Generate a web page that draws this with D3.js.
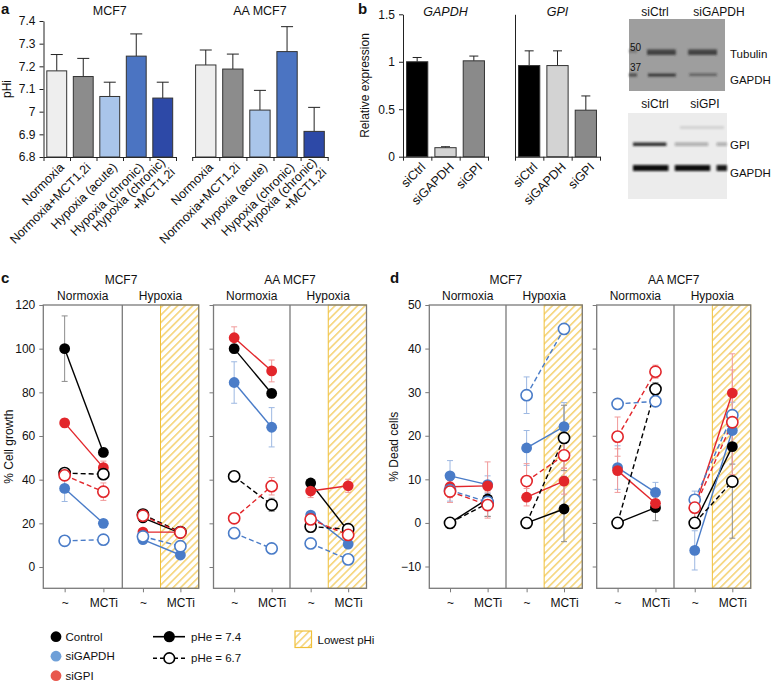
<!DOCTYPE html>
<html><head><meta charset="utf-8">
<script src="https://cdn.jsdelivr.net/npm/d3@7"></script>
<style>body{margin:0;background:#fff} svg{display:block} text{font-family:"Liberation Sans",Arial,Helvetica,sans-serif;fill:#111}</style>
</head><body><svg id="chart" width="772" height="682"></svg>
<script>
// ---------- Panel a data ----------
const aCategories = ["Normoxia","Normoxia+MCT1,2i","Hypoxia (acute)","Hypoxia (chronic)","Hypoxia (chronic)|+MCT1,2i"];
const aMCF7 = [7.18, 7.155, 7.067, 7.245, 7.06];
const aMCF7Err = [0.072, 0.08, 0.063, 0.098, 0.07];
const aAAMCF7 = [7.206, 7.188, 7.007, 7.265, 6.913];
const aAAMCF7Err = [0.066, 0.066, 0.087, 0.11, 0.106];
const aTicks = [6.8, 6.9, 7.0, 7.1, 7.2, 7.3, 7.4];
const aColors = ["#eeeeee","#8c8c8c","#a9c5ea","#4b74c2","#2d49a7"];

// ---------- Panel b data ----------
const bCategories = ["siCtrl","siGAPDH","siGPI"];
const bGAPDH = [1.0, 0.095, 1.01];
const bGAPDHErr = [0.045, 0.01, 0.05];
const bGPI = [0.96, 0.96, 0.49];
const bGPIErr = [0.155, 0.155, 0.15];
const bTicks = [0, 0.5, 1, 1.5];
const bColors = ["#000000","#d3d3d3","#8a8a8a"];
// western blots (band intensity per lane)
const blot1Lanes = ["siCtrl","siGAPDH"];
const blot1Tubulin = [0.85, 0.85];
const blot1GAPDH = [0.8, 0.5];
const blot2Lanes = ["siCtrl","siGPI"];
const blot2GPI = [0.9, 0.3, 0.3];
const blot2GAPDH = [1.0, 1.0, 0.95];

// ---------- Panels c/d data: [group, pHe, value(~), value(MCTi), err(~), err(MCTi)] ----------
const treatments = ["~","MCTi"];
const conditions = ["Normoxia","Hypoxia"];
const cellLines = ["MCF7","AA MCF7"];
const groupNames = ["Control","siGAPDH","siGPI"];

const growthMCF7Normoxia = [
  ["Control",7.4,100,52.5,15,2], ["siGAPDH",7.4,36,20,6,1.5], ["siGPI",7.4,66,45.5,2,3],
  ["Control",6.7,43,42.5,1,2], ["siGAPDH",6.7,12,12.5,1,1], ["siGPI",6.7,42,34.5,2,4]];
const growthMCF7Hypoxia = [
  ["Control",7.4,22.5,15.5,1.5,1], ["siGAPDH",7.4,12.5,5.5,1.5,1], ["siGPI",7.4,16,16,1.5,1],
  ["Control",6.7,24,16,1.5,1], ["siGAPDH",6.7,14,9.5,1.5,1], ["siGPI",6.7,23.5,15.8,1.5,1]];
const growthAANormoxia = [
  ["Control",7.4,100,79.5,2,2], ["siGAPDH",7.4,84.5,64,9.5,9], ["siGPI",7.4,105,89.8,5,5],
  ["Control",6.7,41.5,28.5,1,3], ["siGAPDH",6.7,15.5,8.5,1,1], ["siGPI",6.7,22.3,37,1,4]];
const growthAAHypoxia = [
  ["Control",7.4,38.5,16.5,1.5,1], ["siGAPDH",7.4,23.8,10.5,1.5,1], ["siGPI",7.4,34.8,37.2,3,3],
  ["Control",6.7,18.5,17.3,1,1], ["siGAPDH",6.7,10.8,3.5,1,1], ["siGPI",6.7,21.8,14.7,1.5,1.5]];

const deadMCF7Normoxia = [
  ["Control",7.4,0,5.5,0,4], ["siGAPDH",7.4,10.8,8.8,3.5,2], ["siGPI",7.4,8.3,8.5,2.5,5.5],
  ["Control",6.7,0,4.5,0,3], ["siGAPDH",6.7,7.5,4.8,2.5,2], ["siGPI",6.7,7.2,4.1,2.5,3]];
const deadMCF7Hypoxia = [
  ["Control",7.4,0,3.2,0,7.5], ["siGAPDH",7.4,17.2,22.1,4,5.5], ["siGPI",7.4,5.9,9.6,2,3],
  ["Control",6.7,0,19.5,0,7.5], ["siGAPDH",6.7,29.3,44.5,4.2,1], ["siGPI",6.7,9.6,15.5,4,3]];
const deadAANormoxia = [
  ["Control",7.4,0,3.5,0,3], ["siGAPDH",7.4,12.7,7.0,5,2.3], ["siGPI",7.4,12,4.5,5,1.5],
  ["Control",6.7,0,30.7,0,1.5], ["siGAPDH",6.7,27.3,27.9,1,1], ["siGPI",6.7,19.8,34.7,4.5,1.5]];
const deadAAHypoxia = [
  ["Control",7.4,0,17.5,0,4], ["siGAPDH",7.4,-6.3,21.2,4.5,3], ["siGPI",7.4,3.5,29.8,3,9],
  ["Control",6.7,0,9.5,0,13], ["siGAPDH",6.7,5.3,24.7,2,3], ["siGPI",6.7,3.5,23.1,3,12]];

const growthTicks = [0,20,40,60,80,100,120];
const deadTicks = [-10,0,10,20,30,40,50];

// ---------- styles ----------
const groupColor = {Control:"#000000", siGAPDH:"#4a7cc8", siGPI:"#e2262b"};
const errColor = {Control:"#8c8c8c", siGAPDH:"#9db8e2", siGPI:"#f19a9a"};
const legendColor = {Control:"#000000", siGAPDH:"#6fa0d8", siGPI:"#e8584d"};
const frameColor = "#7a7a7a";
const hatchColor = "#f0c03a";

const svg = d3.select("#chart");
const defs = svg.append("defs");
const pat = defs.append("pattern").attr("id","hatch").attr("patternUnits","userSpaceOnUse")
  .attr("width",5.3).attr("height",5.3).attr("patternTransform","rotate(45)");
pat.append("line").attr("x1",2.6).attr("x2",2.6).attr("y1",0).attr("y2",5.3)
  .attr("stroke",hatchColor).attr("stroke-width",1.1);
defs.append("filter").attr("id","blur").attr("x","-20%").attr("y","-100%").attr("width","140%").attr("height","300%")
  .append("feGaussianBlur").attr("stdDeviation",0.9);

function panelLetter(t,x,y){ svg.append("text").attr("x",x).attr("y",y).attr("font-size",15).attr("font-weight","bold").text(t); }

function rotLabels(g, cats, band, y0, dx){
  cats.forEach((c,i)=>{
    const lines = c.split("|");
    const t = g.append("text")
      .attr("transform",`translate(${band(i)+band.bandwidth()/2+dx},${y0+8}) rotate(-45)`)
      .attr("text-anchor","end").attr("font-size",12.5);
    lines.forEach((ln,j)=>t.append("tspan").attr("x",0)
      .attr("dy", j===0 ? (lines.length>1 ? "-0.2em" : "0.35em") : "1.1em").text(ln));
  });
}

function barChart(o){
  const g = svg.append("g");
  const band = d3.scaleBand().domain(d3.range(o.vals.length)).range(o.xr).paddingInner(0.25).paddingOuter(0.125);
  const base = o.y.range()[0];
  const edge = d3.scaleLinear().domain([0,o.vals.length]).range(o.xr);
  const ax = g.append("g").attr("transform",`translate(0,${base})`)
    .call(d3.axisBottom(edge).tickValues(d3.range(o.vals.length+1)).tickSize(4).tickSizeOuter(0).tickFormat(""));
  ax.selectAll("path,line").attr("stroke","#222");
  if (o.yAxis){
    const ya = g.append("g").attr("transform",`translate(${o.xr[0]},0)`)
      .call(d3.axisLeft(o.y).tickValues(o.ticks).tickSize(o.labels?4:0).tickSizeOuter(0).tickPadding(4)
        .tickFormat(o.labels ? (d=>String(+d.toFixed(1))) : ""));
    ya.selectAll("path,line").attr("stroke","#222");
    ya.selectAll("text").attr("font-size",12).attr("fill","#111").style("font-family",'"Liberation Sans",Arial,sans-serif');
  }
  o.vals.forEach((v,i)=>{
    const cx = band(i)+band.bandwidth()/2;
    g.append("line").attr("x1",cx).attr("x2",cx).attr("y1",o.y(v)).attr("y2",o.y(v+o.errs[i])).attr("stroke","#222").attr("stroke-width",1);
    g.append("line").attr("x1",cx-o.cap).attr("x2",cx+o.cap).attr("y1",o.y(v+o.errs[i])).attr("y2",o.y(v+o.errs[i])).attr("stroke","#222").attr("stroke-width",1);
  });
  g.selectAll("rect.bar").data(o.vals).join("rect").attr("class","bar")
    .attr("x",(d,i)=>band(i)).attr("width",band.bandwidth())
    .attr("y",d=>o.y(d)).attr("height",d=>base-o.y(d))
    .attr("fill",(d,i)=>o.colors[i]).attr("stroke","#333").attr("stroke-width",1);
  rotLabels(g, o.cats, band, base, o.labDx);
  if (o.title) g.append("text").attr("x",(o.xr[0]+o.xr[1])/2).attr("y",o.titleY).attr("text-anchor","middle")
    .attr("font-size",12.5).attr("font-style",o.italic?"italic":"normal").text(o.title);
}

// ---------- Panel a ----------
panelLetter("a",1,14);
const aY = d3.scaleLinear().domain([6.8,7.4]).range([157,21]);
barChart({vals:aMCF7, errs:aMCF7Err, cats:aCategories, colors:aColors, xr:[43.5,176], y:aY, ticks:aTicks, yAxis:true, labels:true, cap:6, title:"MCF7", titleY:15, labDx:5});
barChart({vals:aAAMCF7, errs:aAAMCF7Err, cats:aCategories, colors:aColors, xr:[192.2,327.7], y:aY, ticks:aTicks, yAxis:false, cap:6, title:"AA MCF7", titleY:15, labDx:5});
svg.append("text").attr("transform","translate(11,89) rotate(-90)").attr("text-anchor","middle").attr("font-size",12).text("pHi");

// ---------- Panel b ----------
panelLetter("b",358,14);
const bY = d3.scaleLinear().domain([0,1.5]).range([156.7,14.3]);
barChart({vals:bGAPDH, errs:bGAPDHErr, cats:bCategories, colors:bColors, xr:[403,488], y:bY, ticks:bTicks, yAxis:true, labels:true, cap:4.5, title:"GAPDH", italic:true, titleY:16, labDx:6});
barChart({vals:bGPI, errs:bGPIErr, cats:bCategories, colors:bColors, xr:[515,600], y:bY, ticks:bTicks, yAxis:true, labels:false, cap:4.5, title:"GPI", italic:true, titleY:16, labDx:6});
svg.append("text").attr("transform","translate(369,85.5) rotate(-90)").attr("text-anchor","middle").attr("font-size",12).text("Relative expression");

// western blots
(function(){
  const g = svg.append("g");
  g.append("rect").attr("x",629).attr("y",19).attr("width",96).attr("height",72).attr("fill","#9e9e9e");
  const lane1 = d3.scaleBand().domain(d3.range(blot1Lanes.length)).range([647,717]).paddingInner(0.3);
  blot1Lanes.forEach((l,i)=>g.append("text").attr("x",[655,719][i]).attr("y",16).attr("text-anchor","middle").attr("font-size",12).text(l));
  const bands = g.append("g").attr("filter","url(#blur)");
  blot1Tubulin.forEach((v,i)=>bands.append("rect").attr("x",lane1(i)).attr("y",49.5).attr("width",lane1.bandwidth()).attr("height",5.5).attr("fill","#333").attr("opacity",v));
  blot1GAPDH.forEach((v,i)=>bands.append("rect").attr("x",lane1(i)+1).attr("y",73.5).attr("width",lane1.bandwidth()-1).attr("height",3.5-(1-v)*2).attr("fill","#222").attr("opacity",v));
  bands.append("rect").attr("x",629).attr("y",49).attr("width",8).attr("height",4).attr("fill","#666").attr("opacity",0.6);
  bands.append("rect").attr("x",629).attr("y",73.5).attr("width",8).attr("height",3).attr("fill","#333").attr("opacity",0.8);
  g.append("text").attr("x",630).attr("y",51).attr("font-size",10).text("50");
  g.append("text").attr("x",630).attr("y",70.5).attr("font-size",10).text("37");
  g.append("text").attr("x",730).attr("y",57.5).attr("font-size",11.5).text("Tubulin");
  g.append("text").attr("x",730).attr("y",83.5).attr("font-size",11.5).text("GAPDH");
  g.append("rect").attr("x",628).attr("y",113).attr("width",99).attr("height",86).attr("fill","#ececec");
  const lane2 = d3.scaleBand().domain(d3.range(3)).range([633,750]).paddingInner(0.2);
  blot2Lanes.forEach((l,i)=>g.append("text").attr("x",[655,705][i]).attr("y",108).attr("text-anchor","middle").attr("font-size",12).text(l));
  const b2 = g.append("g").attr("filter","url(#blur)");
  blot2GPI.forEach((v,i)=>{
    const x0 = lane2(i), w = Math.min(lane2.bandwidth(), 727-x0);
    b2.append("rect").attr("x",x0).attr("y",142.5).attr("width",w).attr("height",3.5).attr("fill","#1a1a1a").attr("opacity",v);
  });
  blot2GAPDH.forEach((v,i)=>{
    const x0 = lane2(i), w = Math.min(lane2.bandwidth()+2, 727-x0);
    b2.append("rect").attr("x",x0).attr("y",165).attr("width",w).attr("height",6).attr("fill","#0d0d0d").attr("opacity",v);
  });
  b2.append("rect").attr("x",680).attr("y",126).attr("width",44).attr("height",3).attr("fill","#c8c8c8").attr("opacity",0.7);
  g.append("text").attr("x",730).attr("y",148.5).attr("font-size",11.5).text("GPI");
  g.append("text").attr("x",730).attr("y",177).attr("font-size",11.5).text("GAPDH");
})();

// ---------- Panels c and d ----------
function dotPanel(o){
  const g = svg.append("g");
  const top = 305, bottom = 588.3;
  const y = d3.scaleLinear().domain(o.domain).range([bottom, top]);
  o.boxes.forEach((b,bi)=>{
    const hx = (b.M+b.R)/2;
    g.append("rect").attr("x",hx).attr("y",top).attr("width",b.R-hx).attr("height",bottom-top)
      .attr("fill","url(#hatch)").attr("stroke",hatchColor).attr("stroke-width",1);
    g.append("rect").attr("x",b.L).attr("y",top).attr("width",b.R-b.L).attr("height",bottom-top)
      .attr("fill","none").attr("stroke",frameColor).attr("stroke-width",1.3);
    g.append("line").attr("x1",b.M).attr("x2",b.M).attr("y1",top).attr("y2",bottom).attr("stroke",frameColor).attr("stroke-width",1.3);
    const ya = g.append("g").attr("transform",`translate(${b.L},0)`)
      .call(d3.axisLeft(y).tickValues(o.ticks).tickSize(4).tickPadding(4)
        .tickFormat(bi===0 ? (d=>d<0 ? "\u2212"+Math.abs(d) : String(d)) : ""));
    ya.select(".domain").remove();
    ya.selectAll("line").attr("stroke",frameColor);
    ya.selectAll("text").attr("font-size",12).attr("fill","#111").style("font-family",'"Liberation Sans",Arial,sans-serif');
    g.append("text").attr("x",(b.L+b.R)/2).attr("y",284).attr("text-anchor","middle").attr("font-size",12).text(cellLines[bi]);
    [[b.L,b.M],[b.M,b.R]].forEach((r,ci)=>{
      const cond = conditions[ci];
      g.append("text").attr("x",(r[0]+r[1])/2).attr("y",300).attr("text-anchor","middle").attr("font-size",12).text(cond);
      const x = d3.scalePoint().domain(treatments).range(r).padding(0.52).align(0.53);
      const xa = g.append("g").attr("transform",`translate(0,${bottom})`)
        .call(d3.axisBottom(x).tickSize(4).tickPadding(6));
      xa.select(".domain").remove();
      xa.selectAll("line").attr("stroke",frameColor);
      xa.selectAll("text").attr("font-size",12).attr("fill","#111").style("font-family",'"Liberation Sans",Arial,sans-serif');
      const rows = o.data[bi][ci];
      const eg = g.append("g"), lg = g.append("g"), pg = g.append("g");
      rows.forEach(r2=>{
        const [grp,ph,v0,v1,e0,e1] = r2;
        [[v0,e0,treatments[0]],[v1,e1,treatments[1]]].forEach(([v,e,t])=>{
          if (!e) return;
          const cx = x(t);
          eg.append("line").attr("x1",cx).attr("x2",cx).attr("y1",y(v-e)).attr("y2",y(v+e)).attr("stroke",errColor[grp]).attr("stroke-width",1);
          [v-e,v+e].forEach(w=>eg.append("line").attr("x1",cx-3).attr("x2",cx+3).attr("y1",y(w)).attr("y2",y(w)).attr("stroke",errColor[grp]).attr("stroke-width",1));
        });
        lg.append("line").attr("x1",x(treatments[0])).attr("y1",y(v0)).attr("x2",x(treatments[1])).attr("y2",y(v1))
          .attr("stroke",groupColor[grp]).attr("stroke-width",1.4).attr("stroke-dasharray",ph===6.7?"5,3":null);
      });
      const ordered = rows.filter(r2=>r2[1]===7.4).concat(rows.filter(r2=>r2[1]===6.7));
      ordered.forEach(r2=>{
        const [grp,ph,v0,v1] = r2;
        [[v0,treatments[0]],[v1,treatments[1]]].forEach(([v,t])=>{
          pg.append("circle").attr("cx",x(t)).attr("cy",y(v)).attr("r",ph===7.4?5.4:5.6)
            .attr("fill",ph===7.4?groupColor[grp]:"#fff").attr("stroke",groupColor[grp]).attr("stroke-width",ph===7.4?0:1.6);
        });
      });
    });
  });
  svg.append("text").attr("transform",`translate(${o.labX},${(top+bottom)/2}) rotate(-90)`).attr("text-anchor","middle").attr("font-size",12).text(o.label);
}

panelLetter("c",1,283);
dotPanel({domain:[-9.75,120], ticks:growthTicks, label:"% Cell growth", labX:12.5,
  boxes:[{L:43.3,M:122.3,R:198.7},{L:213.5,M:290,R:366.5}],
  data:[[growthMCF7Normoxia,growthMCF7Hypoxia],[growthAANormoxia,growthAAHypoxia]]});
panelLetter("d",390,283);
dotPanel({domain:[-15,50], ticks:deadTicks, label:"% Dead cells", labX:398,
  boxes:[{L:429.3,M:506,R:582.3},{L:596.7,M:674,R:750.7}],
  data:[[deadMCF7Normoxia,deadMCF7Hypoxia],[deadAANormoxia,deadAAHypoxia]]});

// ---------- Legend ----------
(function(){
  const g = svg.append("g");
  groupNames.forEach((n,i)=>{
    const cy = 636.7 + i*19.5;
    g.append("circle").attr("cx",56).attr("cy",cy).attr("r",5.4).attr("fill",legendColor[n]);
    g.append("text").attr("x",65.5).attr("y",cy+3.8).attr("font-size",11.5).text(n);
  });
  const phs = [["7.4",false],["6.7",true]];
  phs.forEach(([p,dash],i)=>{
    const cy = 636.7 + i*21.5;
    g.append("line").attr("x1",153).attr("x2",185).attr("y1",cy).attr("y2",cy).attr("stroke","#000").attr("stroke-width",1.6).attr("stroke-dasharray",dash?"4,3":null);
    g.append("circle").attr("cx",169.3).attr("cy",cy).attr("r",dash?5.3:5.6).attr("fill",dash?"#fff":"#000").attr("stroke","#000").attr("stroke-width",dash?1.6:0);
    g.append("text").attr("x",191).attr("y",cy+4).attr("font-size",11.5).text("pHe = "+p);
  });
  g.append("rect").attr("x",295).attr("y",631).attr("width",16.5).attr("height",16.5).attr("fill","url(#hatch)").attr("stroke",hatchColor).attr("stroke-width",1.2);
  g.append("text").attr("x",317.5).attr("y",644).attr("font-size",11.5).text("Lowest pHi");
})();
</script></body></html>
